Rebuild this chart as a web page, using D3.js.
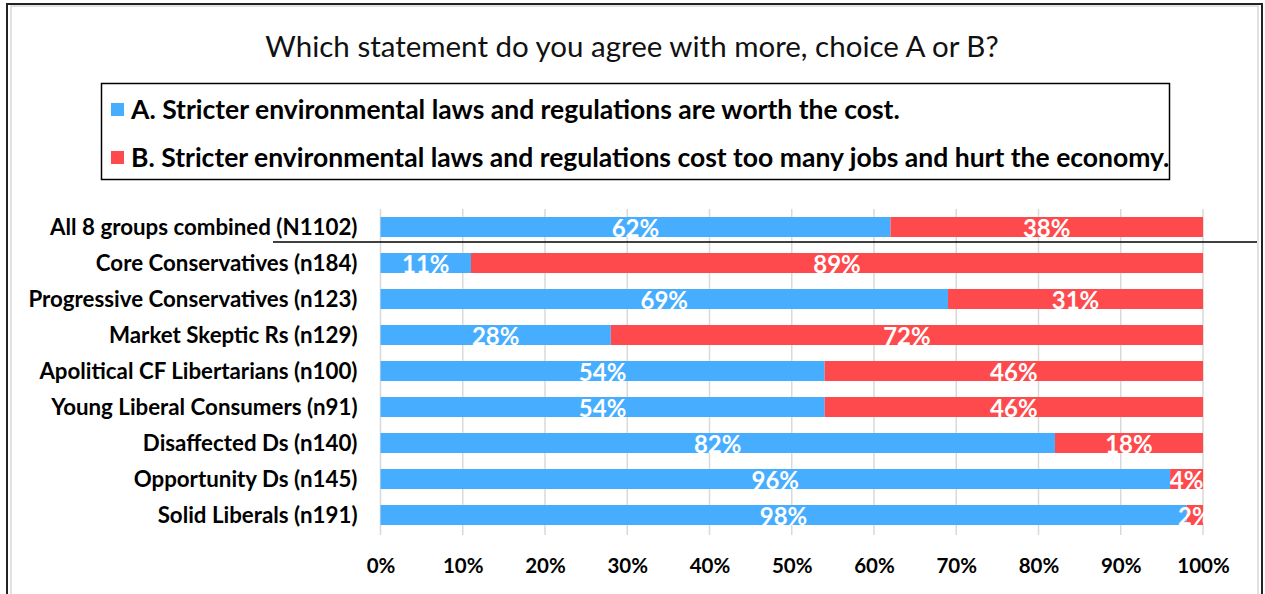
<!DOCTYPE html>
<html>
<head>
<meta charset="utf-8">
<script src="https://cdn.jsdelivr.net/npm/d3@7"></script>
<style>
  html, body { margin: 0; padding: 0; background: #fff; }
  svg { display: block; font-family: Lato, "Open Sans", sans-serif; }
</style>
</head>
<body>
<svg id="chart" width="1265" height="594"></svg>
<script>
// data
const groups = [
  "All 8 groups combined (N1102)",
  "Core Conservatives (n184)",
  "Progressive Conservatives (n123)",
  "Market Skeptic Rs (n129)",
  "Apolitical CF Libertarians (n100)",
  "Young Liberal Consumers (n91)",
  "Disaffected Ds (n140)",
  "Opportunity Ds (n145)",
  "Solid Liberals (n191)"
];
const choiceA = [62, 11, 69, 28, 54, 54, 82, 96, 98];
const choiceB = [38, 89, 31, 72, 46, 46, 18, 4, 2];
const seriesNames = [
  "A. Stricter environmental laws and regulations are worth the cost.",
  "B. Stricter environmental laws and regulations cost too many jobs and hurt the economy."
];
const colors = ["#47AEFF", "#FF4A4D"];
const xTicks = [0, 10, 20, 30, 40, 50, 60, 70, 80, 90, 100];
const title = "Which statement do you agree with more, choice A or B?";

const svg = d3.select("#chart");

// frame
svg.append("rect").attr("x", 7).attr("y", 4).attr("width", 1255).attr("height", 600)
  .attr("fill", "none").attr("stroke", "#222").attr("stroke-width", 2);
svg.append("rect").attr("x", 11).attr("y", 6).attr("width", 1247).attr("height", 600)
  .attr("fill", "#fff").attr("stroke", "#d9d9d9").attr("stroke-width", 1.5);

// title
svg.append("text")
  .attr("x", 632).attr("y", 57)
  .attr("text-anchor", "middle")
  .attr("font-size", 29.5)
  .attr("fill", "#111")
  .text(title);

// legend
const legend = svg.append("g");
legend.append("rect").attr("x", 101.5).attr("y", 83.5).attr("width", 1068).attr("height", 96)
  .attr("fill", "#fff").attr("stroke", "#000").attr("stroke-width", 1.5);
seriesNames.forEach((name, i) => {
  const y = 110 + i * 48;
  legend.append("rect").attr("x", 111).attr("y", y - 7).attr("width", 13).attr("height", 13)
    .attr("fill", colors[i]);
  legend.append("text").attr("x", 131).attr("y", y + 9)
    .attr("font-size", 26.5).attr("font-weight", "bold").attr("fill", "#000")
    .text(name);
});

// scales
const x = d3.scaleLinear().domain([0, 100]).range([380.5, 1203]);
const y = d3.scaleBand().domain(groups).range([209, 533])
  .paddingInner(16 / 36).paddingOuter(8 / 36);

// gridlines
svg.append("g")
  .selectAll("line")
  .data(xTicks)
  .join("line")
  .attr("x1", d => x(d)).attr("x2", d => x(d))
  .attr("y1", 209).attr("y2", 535)
  .attr("stroke", "#d9d9d9").attr("stroke-width", 1.5);

// stacked bars
const rows = groups.map((g, i) => ({ group: g, a: choiceA[i], b: choiceB[i] }));
const stack = d3.stack().keys(["a", "b"])(rows);

const layer = svg.append("g")
  .selectAll("g")
  .data(stack)
  .join("g")
  .attr("fill", (d, i) => colors[i]);

layer.selectAll("rect")
  .data(d => d)
  .join("rect")
  .attr("x", d => x(d[0]))
  .attr("width", d => x(d[1]) - x(d[0]))
  .attr("y", d => y(d.data.group))
  .attr("height", y.bandwidth());

// value labels
layer.selectAll("text")
  .data(d => d)
  .join("text")
  .attr("x", d => (x(d[0]) + x(d[1])) / 2)
  .attr("y", d => y(d.data.group) + y.bandwidth() / 2 + 9.5)
  .attr("text-anchor", "middle")
  .attr("font-size", 24)
  .attr("font-weight", "bold")
  .attr("fill", "#fff")
  .text(d => (d[1] - d[0]) + "%");

// category axis
const yAxis = svg.append("g")
  .attr("transform", `translate(${x(0) - 23},0)`)
  .call(d3.axisLeft(y).tickSize(0).tickPadding(0));
yAxis.select(".domain").remove();
yAxis.selectAll("text")
  .attr("dy", "0.36em")
  .attr("font-size", 22.3).attr("font-weight", "bold").attr("fill", "#000")
  .attr("font-family", "Lato, sans-serif");

// separator under the combined row
svg.append("line")
  .attr("x1", 273).attr("x2", 1257)
  .attr("y1", 242).attr("y2", 242)
  .attr("stroke", "#000").attr("stroke-width", 1.3);

// x axis
const xAxis = svg.append("g")
  .attr("transform", "translate(0,551)")
  .call(d3.axisBottom(x).tickValues(xTicks).tickSize(0).tickPadding(0).tickFormat(d => d + "%"));
xAxis.select(".domain").remove();
xAxis.selectAll("text")
  .attr("dy", "1.05em")
  .attr("font-size", 20.5).attr("font-weight", "bold").attr("fill", "#000")
  .attr("font-family", "Lato, sans-serif");
</script>
</body>
</html>
